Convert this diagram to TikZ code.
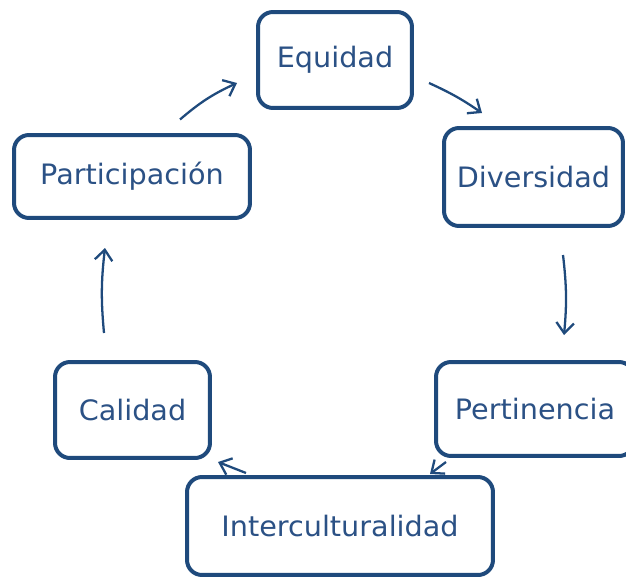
\documentclass[tikz,border=0pt]{standalone}
\usepackage{fontspec}
\setmainfont{DejaVu Sans}[FakeStretch=1.02]
\usepackage{tikz}
\usetikzlibrary{positioning,arrows.meta,calc}
\usepackage{xcolor}
\definecolor{BoxBlue}{HTML}{1F4A7C}
\definecolor{TextBlue}{HTML}{2B5185}

\tikzset{
  valor/.style={draw=BoxBlue,line width=0.08cm,rounded corners=0.3cm,fill=white,
    text=TextBlue,font=\fontsize{16}{18}\selectfont,inner sep=0pt},
  link/.style={-{Straight Barb[length=6pt,width=10pt]},line width=1.3pt,BoxBlue}
}

\begin{document}
\begin{tikzpicture}[x=0.02cm,y=-0.02cm]
\useasboundingbox (0,0) rectangle (626,578);
% valores
\node[valor,minimum width=3.08cm,minimum height=1.92cm] (equidad) at (335,60) {Equidad};
\node[valor,minimum width=3.58cm,minimum height=1.96cm] (diversidad) at (533.5,177) {Diversidad};
\node[valor,minimum width=3.96cm,minimum height=1.88cm] (pertinencia) at (535,409) {Pertinencia};
\node[valor,minimum width=6.12cm,minimum height=1.96cm] (interculturalidad) at (340,526) {Interculturalidad};
\node[valor,minimum width=3.10cm,minimum height=1.92cm] (calidad) at (132.5,410) {Calidad};
\node[valor,minimum width=4.72cm,minimum height=1.66cm] (participacion) at (132,176.5) {Participación};
% ciclo
\draw[link] ($(participacion)+(48,-57)$) to[bend left=8] ($(equidad)+(-98,23)$);
\draw[link] ($(equidad)+(94,23)$) to[bend left=5] ($(diversidad)+(-51.5,-64)$);
\draw[link] ($(diversidad)+(29.5,78)$) to[bend left=6] ($(pertinencia)+(29,-74)$);
\draw[link] ($(pertinencia)+(-89,53)$) -- ($(interculturalidad)+(90,-52)$);
\draw[link] ($(interculturalidad)+(-94,-53)$) -- ($(calidad)+(85.5,52)$);
\draw[link] ($(calidad)+(-28.5,-77)$) to[bend left=6] ($(participacion)+(-27,71.5)$);
\end{tikzpicture}
\end{document}
